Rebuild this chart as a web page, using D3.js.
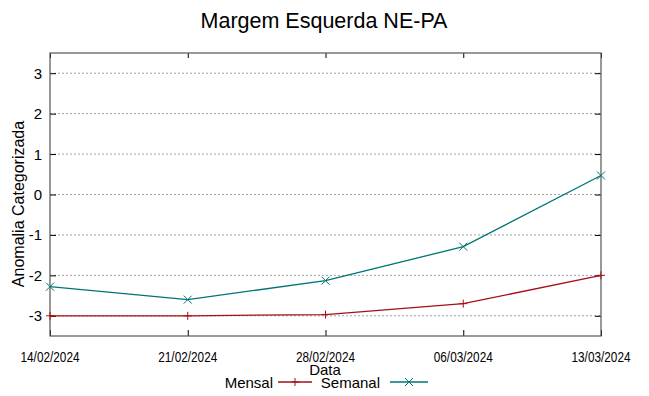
<!DOCTYPE html>
<html>
<head>
<meta charset="utf-8">
<script src="https://cdn.jsdelivr.net/npm/d3@7"></script>
<style>
  body { margin: 0; background: #fff; }
  text { font-family: "Liberation Sans", Arial, sans-serif; fill: #000; }
</style>
</head>
<body>
<svg id="chart" width="649" height="396"></svg>
<script>
// chart data
const dates = ["14/02/2024", "21/02/2024", "28/02/2024", "06/03/2024", "13/03/2024"];
const mensal = [-3.0, -3.0, -2.97, -2.7, -2.0];
const semanal = [-2.28, -2.6, -2.13, -1.29, 0.47];
const yTicks = [-3, -2, -1, 0, 1, 2, 3];

const margin = {top: 53, right: 48, bottom: 60, left: 50};
const width = 649, height = 396;
const narrow = "'Liberation Sans Narrow', 'Liberation Sans', sans-serif";

const parse = d3.timeParse("%d/%m/%Y");
const fmt = d3.timeFormat("%d/%m/%Y");
const xDates = dates.map(parse);

const svg = d3.select("#chart");

const x = d3.scaleTime()
  .domain(d3.extent(xDates))
  .range([margin.left, width - margin.right]);
const y = d3.scaleLinear()
  .domain([-3.5, 3.5])
  .range([height - margin.bottom, margin.top]);

// grid (horizontal only, dotted)
svg.append("g")
  .selectAll("line")
  .data(yTicks)
  .enter().append("line")
  .attr("x1", margin.left).attr("x2", width - margin.right)
  .attr("y1", d => y(d)).attr("y2", d => y(d))
  .attr("stroke", "#a0a0a0")
  .attr("stroke-width", 1)
  .attr("stroke-dasharray", "2,2");

// y axis left, ticks inside
svg.append("g")
  .attr("transform", `translate(${margin.left},0)`)
  .call(d3.axisRight(y).tickValues(yTicks).tickSize(6).tickFormat(""))
  .call(g => g.select(".domain").remove());
svg.append("g")
  .selectAll("text")
  .data(yTicks)
  .enter().append("text")
  .attr("x", margin.left - 8)
  .attr("y", d => y(d) + 5.5)
  .attr("text-anchor", "end")
  .attr("font-size", 15)
  .text(d => d);

// mirrored y ticks on right
svg.append("g")
  .attr("transform", `translate(${width - margin.right},0)`)
  .call(d3.axisLeft(y).tickValues(yTicks).tickSize(6).tickFormat(""))
  .call(g => g.select(".domain").remove());

// x axis ticks inside bottom & top
svg.append("g")
  .attr("transform", `translate(0,${height - margin.bottom})`)
  .call(d3.axisTop(x).tickValues(xDates).tickSize(6).tickFormat(""))
  .call(g => g.select(".domain").remove());
svg.append("g")
  .attr("transform", `translate(0,${margin.top})`)
  .call(d3.axisBottom(x).tickValues(xDates).tickSize(5).tickFormat(""))
  .call(g => g.select(".domain").remove());

svg.append("g")
  .selectAll("text")
  .data(xDates)
  .enter().append("text")
  .attr("x", d => x(d))
  .attr("y", 362)
  .attr("text-anchor", "middle")
  .attr("font-size", 14)
  .style("font-family", narrow)
  .attr("textLength", 59)
  .attr("lengthAdjust", "spacingAndGlyphs")
  .text(d => fmt(d));

// border
svg.append("rect")
  .attr("x", margin.left).attr("y", margin.top)
  .attr("width", width - margin.left - margin.right)
  .attr("height", height - margin.top - margin.bottom)
  .attr("fill", "none")
  .attr("stroke", "#555")
  .attr("stroke-width", 1.2);

const series = [
  {name: "Mensal", values: mensal, color: "#a50f15", marker: "plus"},
  {name: "Semanal", values: semanal, color: "#007474", marker: "cross"}
];

const line = d3.line()
  .x((d, i) => x(xDates[i]))
  .y(d => y(d));

function marker(g, type, cx, cy, color) {
  const s = 4;
  if (type === "plus") {
    g.append("path")
      .attr("d", `M${cx - s},${cy}H${cx + s}M${cx},${cy - s}V${cy + s}`)
      .attr("stroke", color).attr("stroke-width", 1);
  } else {
    g.append("path")
      .attr("d", `M${cx - s},${cy - s}L${cx + s},${cy + s}M${cx - s},${cy + s}L${cx + s},${cy - s}`)
      .attr("stroke", color).attr("stroke-width", 1);
  }
}

series.forEach(s => {
  svg.append("path")
    .datum(s.values)
    .attr("fill", "none")
    .attr("stroke", s.color)
    .attr("stroke-width", 1.3)
    .attr("d", line);
  const g = svg.append("g");
  s.values.forEach((v, i) => marker(g, s.marker, x(xDates[i]), y(v), s.color));
});

// title and axis labels
svg.append("text")
  .attr("x", 324).attr("y", 28)
  .attr("text-anchor", "middle")
  .attr("font-size", 21.5)
  .text("Margem Esquerda NE-PA");

svg.append("text")
  .attr("transform", `translate(24,${204}) rotate(-90)`)
  .attr("text-anchor", "middle")
  .attr("font-size", 16)
  .text("Anomalia Categorizada");

svg.append("text")
  .attr("x", 325).attr("y", 375)
  .attr("text-anchor", "middle")
  .attr("font-size", 15)
  .style("font-family", narrow)
  .text("Data");

// legend
const legend = [
  {name: "Mensal", textEnd: 273, x1: 278, x2: 312},
  {name: "Semanal", textEnd: 380, x1: 390, x2: 428}
];
legend.forEach((l, i) => {
  const s = series[i];
  svg.append("text")
    .attr("x", l.textEnd).attr("y", 388)
    .attr("text-anchor", "end")
    .attr("font-size", 15)
    .style("font-family", narrow)
    .text(l.name);
  svg.append("line")
    .attr("x1", l.x1).attr("x2", l.x2)
    .attr("y1", 382).attr("y2", 382)
    .attr("stroke", s.color).attr("stroke-width", 1.3);
  marker(svg, s.marker, (l.x1 + l.x2) / 2, 382, s.color);
});
</script>
</body>
</html>
